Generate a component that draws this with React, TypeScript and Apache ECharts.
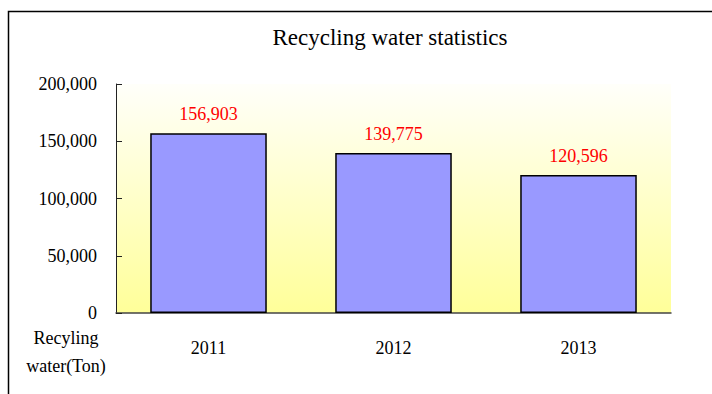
import React, { useEffect, useRef } from "react";
import * as echarts from "echarts";

const categories = ["2011", "2012", "2013"];
const values = [156903, 139775, 120596];
const titleText = "Recycling water statistics";
const unitLines = ["Recyling", "water(Ton)"];

const fmt = (v: number) => v.toLocaleString("en-US");
const FONT = "'Liberation Serif', 'Times New Roman', serif";

export default function App() {
  const ref = useRef<HTMLDivElement>(null);
  useEffect(() => {
    const chart = echarts.init(ref.current!, null, { renderer: "svg" });
    chart.setOption({
      animation: false,
      backgroundColor: "#ffffff",
      textStyle: { fontFamily: FONT },
      title: {
        text: titleText,
        left: 385,
        textAlign: "center",
        top: 21,
        textStyle: { fontFamily: FONT, fontSize: 23, fontWeight: "normal", color: "#000" },
      },
      grid: {
        left: 116,
        right: 41,
        top: 84,
        bottom: 81,
        show: true,
        borderWidth: 0,
        backgroundColor: new echarts.graphic.LinearGradient(0, 0, 0, 1, [
          { offset: 0, color: "#fffffa" },
          { offset: 1, color: "#ffff99" },
        ]),
      },
      xAxis: {
        type: "category",
        data: categories,
        axisLine: { lineStyle: { color: "#444", width: 1.5 } },
        axisTick: { inside: true, length: 6, lineStyle: { color: "#444" } },
        axisLabel: { color: "#000", fontFamily: FONT, fontSize: 18, margin: 26 },
        splitLine: { show: false },
      },
      yAxis: {
        type: "value",
        min: 0,
        max: 200000,
        interval: 50000,
        axisLine: { show: true, lineStyle: { color: "#222", width: 1 } },
        axisTick: { show: true, inside: true, length: 6, lineStyle: { color: "#222" } },
        axisLabel: { color: "#000", fontFamily: FONT, fontSize: 18, margin: 19, formatter: (v: number) => fmt(v) },
        splitLine: { show: false },
      },
      series: [
        {
          type: "bar",
          data: values,
          barWidth: "63%",
          itemStyle: { color: "#9999ff", borderColor: "#000", borderWidth: 1.5 },
          label: {
            show: true,
            position: "top",
            distance: 10,
            color: "#ff0000",
            fontFamily: FONT,
            fontSize: 18,
            formatter: (p: any) => fmt(p.value),
          },
        },
      ],
      graphic: [
        {
          type: "rect",
          shape: { x: 8.5, y: 11.5, width: 800, height: 500 },
          style: { fill: "none", stroke: "#000", lineWidth: 1.5 },
          silent: true,
        },
        {
          type: "text",
          x: 66,
          y: 338,
          style: { text: unitLines[0], fill: "#000", font: `18px ${FONT}`, textAlign: "center", textVerticalAlign: "middle" },
        },
        {
          type: "text",
          x: 66,
          y: 366,
          style: { text: unitLines[1], fill: "#000", font: `18px ${FONT}`, textAlign: "center", textVerticalAlign: "middle" },
        },
      ],
    });
    return () => chart.dispose();
  }, []);
  return <div ref={ref} style={{ position: "absolute", left: 0, top: 0, width: 712, height: 394 }} />;
}
